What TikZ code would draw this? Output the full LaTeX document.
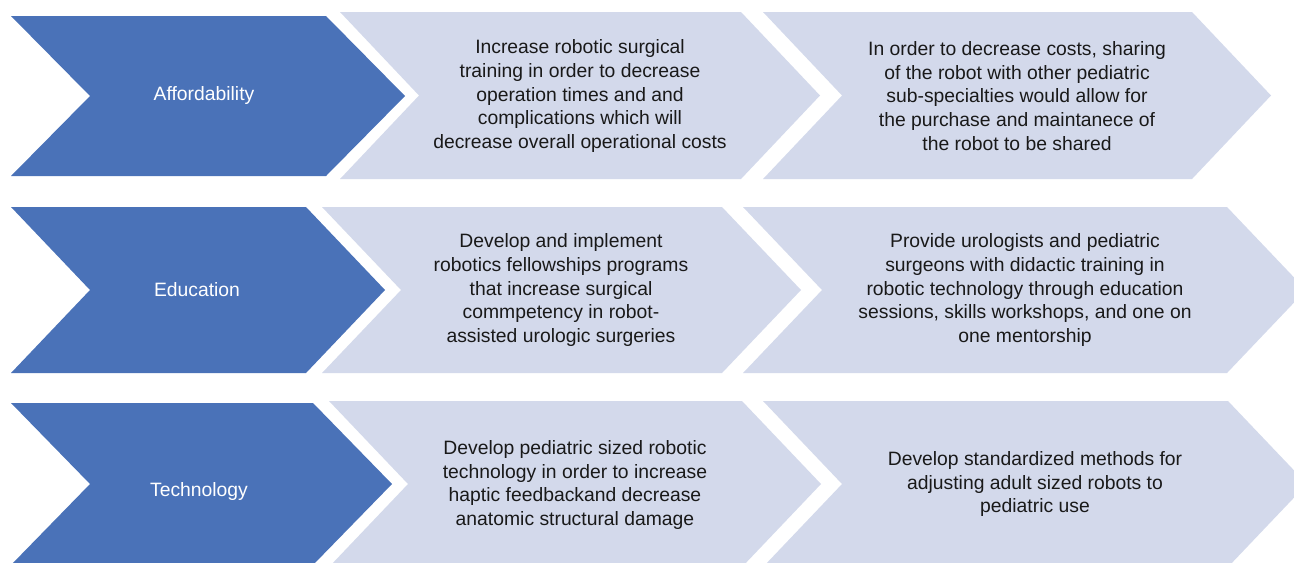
\documentclass[tikz,border=0pt]{standalone}
\usepackage{fontspec}
\setmainfont{Liberation Sans}
\definecolor{stepblue}{HTML}{4A72B8}
\definecolor{steplight}{HTML}{D3D9EB}
\tikzset{
  headchev/.style={fill=stepblue},
  bodychev/.style={fill=steplight},
  headtext/.style={text=white, font=\fontsize{11}{13.6}\selectfont, align=center},
  bodytext/.style={text=black!90, font=\fontsize{11}{13.6}\selectfont, align=center},
}
% chevron outline: style, left x, top-right corner x, top y, bottom y
\newcommand{\chevron}[5]{%
  \fill[#1] (#2,#4) -- (#3,#4) -- ({#3+79},{(#4+#5)/2}) -- (#3,#5) -- (#2,#5) -- ({#2+79},{(#4+#5)/2}) -- cycle;}

\begin{document}
\begin{tikzpicture}[x=0.2mm,y=-0.2mm]
          \useasboundingbox (0,0) rectangle (1294,562);
          \clip (0,0) rectangle (1294,562);
          % affordability row
          \chevron{headchev}{11}{326}{16}{176}
          \chevron{bodychev}{340}{741}{12}{179}
          \chevron{bodychev}{763}{1192}{12}{179}
          % education row
          \chevron{headchev}{11}{306}{207}{373}
          \chevron{bodychev}{322}{722}{207}{373}
          \chevron{bodychev}{743}{1227}{207}{373}
          % technology row
          \chevron{headchev}{11}{313}{403}{565}
          \chevron{bodychev}{329}{742}{401}{567}
          \chevron{bodychev}{763}{1228}{401}{567}
          \node[headtext] at (204,95) (afford) {Affordability};
          \node[bodytext] at (580,96) (afford1) {Increase robotic surgical\\training in order to decrease\\operation times and and\\complications which will\\decrease overall operational costs};
          \node[bodytext] at (1017,96) (afford2) {In order to decrease costs, sharing\\of the robot with other pediatric\\sub-specialties would allow for\\the purchase and maintanece of\\the robot to be shared};
          \node[headtext] at (197,290) (educ) {Education};
          \node[bodytext] at (561,290) (educ1) {Develop and implement\\robotics fellowships programs\\that increase surgical\\commpetency in robot-\\assisted urologic surgeries};
          \node[bodytext] at (1025,290) (educ2) {Provide urologists and pediatric\\surgeons with didactic training in\\robotic technology through education\\sessions, skills workshops, and one on\\one mentorship};
          \node[headtext] at (199,491) (techn) {Technology};
          \node[bodytext] at (575,485) (techn1) {Develop pediatric sized robotic\\technology in order to increase\\haptic feedbackand decrease\\anatomic structural damage};
          \node[bodytext] at (1035,484) (techn2) {Develop standardized methods for\\adjusting adult sized robots to\\pediatric use};
        \end{tikzpicture}
\end{document}
